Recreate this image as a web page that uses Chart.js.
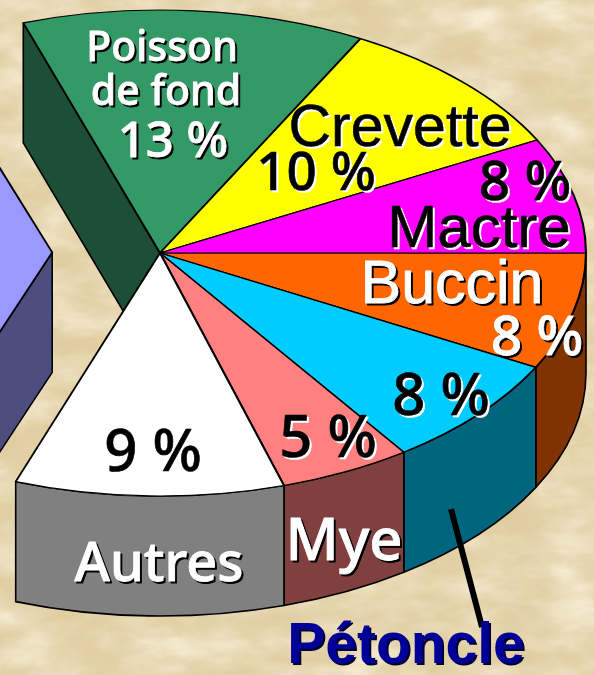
<!DOCTYPE html>
<html><head><meta charset="utf-8">
<script src="https://cdn.jsdelivr.net/npm/chart.js@4"></script>
<style>
html,body{margin:0;padding:0;width:594px;height:675px;overflow:hidden;background:#e8d8b0}
#tex{position:absolute;left:0;top:0}
#c{position:absolute;left:0;top:0}
</style></head><body>
<svg id="tex" width="594" height="675" xmlns="http://www.w3.org/2000/svg">
<filter id="p" x="0" y="0" width="100%" height="100%">
<feTurbulence type="fractalNoise" baseFrequency="0.015 0.03" numOctaves="5" seed="7"/>
<feColorMatrix type="matrix" values="0 0 0 0 0.97  0 0 0 0 0.91  0 0 0 0 0.76  1.6 0 0 0 -0.55"/>
</filter>
<filter id="q" x="0" y="0" width="100%" height="100%">
<feTurbulence type="fractalNoise" baseFrequency="0.02 0.04" numOctaves="4" seed="21"/>
<feColorMatrix type="matrix" values="0 0 0 0 0.72  0 0 0 0 0.58  0 0 0 0 0.34  0 1.5 0 0 -0.56"/>
</filter>
<rect width="594" height="675" fill="#e3d1a6"/>
<rect width="594" height="675" filter="url(#p)"/>
<rect width="594" height="675" filter="url(#q)"/>
</svg>
<canvas id="c" width="594" height="675"></canvas>
<script>
const categories = ["Buccin","Pétoncle","Mye","Autres","Reste","Poisson de fond","Crevette","Mactre"];
const values     = [7.8, 7.5, 5.0, 10.2, 39.3, 13.0, 9.5, 7.7];
const shownPct   = ["8 %","8 %","5 %","9 %","","13 %","10 %","8 %"];
const topColors  = ["#FF6600","#00CCFF","#FF8080","#FFFFFF","#9999FF","#339966","#FFFF00","#FF00FF"];
const sideColors = ["#803300","#006680","#804040","#808080","#4D4D80","#1C4F36","#808000","#800080"];

const CX=160, CY=253, RY=243, SX=1.753, DEPTH=120;
const SANS='"Noto Sans"', ARIAL='"Liberation Sans"';
// text layout: [text, centre x, baseline y, font, fill, shadow, stroke width]
const W='#fff', K='#000';
const texts = [
 ["Poisson",162,61,'500 41px '+SANS,W,K,0.8],
 ["de fond",166,105,'500 41px '+SANS,W,K,0.8],
 [shownPct[5],173,157,'500 49px '+SANS,W,K,0.8],
 [categories[6],400,146,'59px '+ARIAL,K,W,0.6],
 [shownPct[6],316,190,'500 53px '+SANS,K,W,0.6],
 [shownPct[7],525,200,'500 55px '+SANS,K,W,0.6],
 [categories[7],479,247,'60px '+ARIAL,K,W,0.6],
 [categories[0],452,303,'61px '+ARIAL,W,K,0.8],
 [shownPct[0],537,355,'500 55px '+SANS,W,K,0.8],
 [shownPct[1],441,415,'500 58px '+SANS,K,W,0.6],
 [shownPct[2],328,457,'500 58px '+SANS,K,W,0.6],
 [shownPct[3],153,471,'500 58px '+SANS,K,W,0.6],
 [categories[3],159,581,'500 54px '+SANS,W,K,0.8],
 [categories[2],344,560,'500 58px '+SANS,W,K,0.8],
 [categories[1],406,663,'bold 57px '+ARIAL,'#000099','#000033',0]
];

function arcOrigin(arc){
  const off=(arc.options.offset||0)/4, h=(arc.startAngle+arc.endAngle)/2;
  return {off,x:CX+Math.cos(h)*off*SX,y:CY+Math.sin(h)*off};
}
function wallPath(ctx,arc,a,b){
  const o=arcOrigin(arc);
  const R=arc.outerRadius*(o.off?1.3:1);
  ctx.beginPath();
  ctx.ellipse(o.x,o.y,R*SX,R,0,a,b,false);
  ctx.ellipse(o.x,o.y+DEPTH,R*SX,R,0,b,a,true);
  ctx.closePath();
}
function radialFace(ctx,arc,angle,color){
  const o=arcOrigin(arc);
  const R=arc.outerRadius*(o.off?1.3:1);
  const ex=o.x+Math.cos(angle)*R*SX, ey=o.y+Math.sin(angle)*R;
  ctx.beginPath();
  ctx.moveTo(o.x,o.y);ctx.lineTo(ex,ey);ctx.lineTo(ex,ey+DEPTH);ctx.lineTo(o.x,o.y+DEPTH);ctx.closePath();
  ctx.fillStyle=color;ctx.fill();ctx.stroke();
}
const pie3d={
  id:'pie3d',
  beforeDatasetsDraw(chart){
    const ctx=chart.ctx, arcs=chart.getDatasetMeta(0).data;
    ctx.save();
    ctx.strokeStyle='#000';ctx.lineWidth=1.6;ctx.lineJoin='round';
    const gap=arcs.findIndex(a=>a.options.offset>0);
    radialFace(ctx,arcs[gap],arcs[gap].startAngle+0.014,sideColors[gap]);
    radialFace(ctx,arcs[gap+1],arcs[gap+1].startAngle,sideColors[gap+1]);
    arcs.forEach((arc,i)=>{
      if(arc.startAngle>=Math.PI) return;
      wallPath(ctx,arc,arc.startAngle,Math.min(arc.endAngle,Math.PI));
      ctx.fillStyle=sideColors[i];ctx.fill();ctx.stroke();
    });
    ctx.restore();
  },
  beforeDatasetDraw(chart){
    const ctx=chart.ctx;
    ctx.save();ctx.translate(CX,CY);ctx.scale(SX,1);ctx.translate(-CX,-CY);
  },
  afterDatasetDraw(chart){chart.ctx.restore();},
  afterDatasetsDraw(chart){
    const ctx=chart.ctx;
    ctx.save();
    ctx.strokeStyle='#000';ctx.lineWidth=6;
    ctx.beginPath();ctx.moveTo(451,509);ctx.lineTo(482,627);ctx.stroke();
    ctx.textAlign='center';ctx.textBaseline='alphabetic';ctx.lineJoin='round';
    texts.forEach(([t,x,y,f,fill,sh,sw])=>{
      ctx.font=f;ctx.lineWidth=sw;
      ctx.fillStyle=sh;ctx.strokeStyle=sh;ctx.fillText(t,x+2,y+2);if(sw)ctx.strokeText(t,x+2,y+2);
      ctx.fillStyle=fill;ctx.strokeStyle=fill;ctx.fillText(t,x,y);if(sw)ctx.strokeText(t,x,y);
    });
    ctx.restore();
  }
};
new Chart(document.getElementById('c'),{
  type:'pie',
  data:{labels:categories,datasets:[{
    data:values,
    backgroundColor:topColors,
    borderColor:'#000',borderWidth:1.2,
    offset:values.map((v,i)=>categories[i]==="Reste"?246:0),
    clip:false
  }]},
  options:{
    responsive:false,animation:false,
    radius:RY,rotation:90,
    layout:{padding:{left:0,top:0,right:594-2*CX,bottom:675-2*CY}},
    plugins:{legend:{display:false},tooltip:{enabled:false}}
  },
  plugins:[pie3d]
});
</script>
</body></html>
